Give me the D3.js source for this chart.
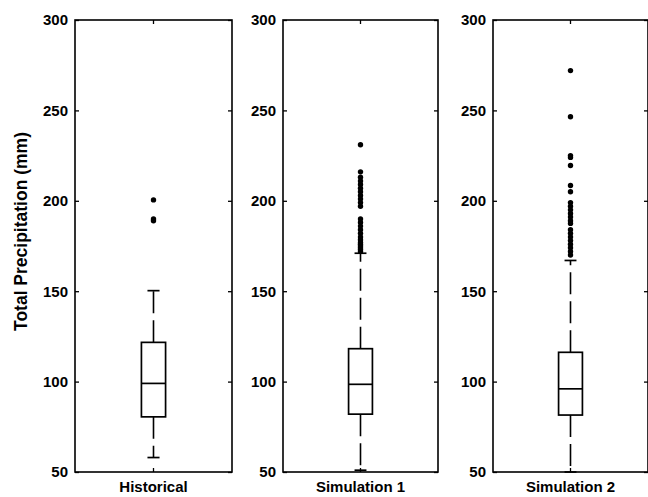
<!DOCTYPE html>
<html>
<head>
<meta charset="utf-8">
<script src="https://cdn.jsdelivr.net/npm/d3@7"></script>
<style>
  html, body { margin: 0; padding: 0; background: #fff; }
  svg { display: block; }
  text { font-family: "Liberation Sans", Arial, Helvetica, sans-serif; fill: #000; }
</style>
</head>
<body>
<svg id="chart" width="648" height="497"></svg>
<script>
// ---- Data ----
const categories = ["Historical", "Simulation 1", "Simulation 2"];
const q1Values = [80.5, 82, 81.5];
const medianValues = [99, 98.5, 96];
const q3Values = [121.7, 118.2, 116.2];
const whiskerLowValues = [58, 51, 50];
const whiskerHighValues = [150.3, 171, 167];
const historicalOutliers = [200.5, 190, 189];
const simulation1Outliers = [231, 216, 213, 211, 209, 207, 205, 203, 201, 199, 197, 190, 188, 186, 184, 182, 180, 178.5, 177, 176, 175, 174, 173, 172];
const simulation2Outliers = [272, 246.5, 225, 224, 219.5, 208.5, 205, 199, 197, 195, 193, 191, 189, 187.5, 184, 182, 180, 178, 176, 174, 172, 170];
const outlierLists = [historicalOutliers, simulation1Outliers, simulation2Outliers];
const yTickValues = [50, 100, 150, 200, 250, 300];
const yLabel = "Total Precipitation (mm)";

// ---- Layout ----
const svg = d3.select("#chart");
const plotTop = 20, plotBottom = 472;
const panels = [
  { left: 75, right: 232 },
  { left: 283, right: 438 },
  { left: 493, right: 648 }
];

const y = d3.scaleLinear().domain([50, 300]).range([plotBottom, plotTop]);

const fontSize = 15;

categories.forEach((cat, i) => {
  const p = panels[i];
  const x = d3.scaleBand().domain([cat]).range([p.left, p.right]).paddingOuter(2.75).paddingInner(0);
  const cx = x(cat) + x.bandwidth() / 2;
  const bw = x.bandwidth();
  const g = svg.append("g");

  // Frame
  g.append("rect")
    .attr("x", p.left).attr("y", plotTop)
    .attr("width", p.right - p.left).attr("height", plotBottom - plotTop)
    .attr("fill", "none").attr("stroke", "#000").attr("stroke-width", 1.6);

  // Left axis
  const la = g.append("g").attr("transform", `translate(${p.left},0)`)
    .call(d3.axisLeft(y).tickValues(yTickValues).tickSize(-4).tickPadding(7).tickFormat(d3.format("d")));
  la.select(".domain").remove();
  la.selectAll(".tick line").attr("stroke", "#000").attr("stroke-width", 1.3);
  la.selectAll("text").style("font-size", fontSize + "px").style("font-weight", "bold").attr("fill", "#000");

  // Right axis ticks (no labels)
  const ra = g.append("g").attr("transform", `translate(${p.right},0)`)
    .call(d3.axisRight(y).tickValues(yTickValues).tickSize(-4).tickFormat(""));
  ra.select(".domain").remove();
  ra.selectAll(".tick line").attr("stroke", "#000").attr("stroke-width", 1.3);

  // Bottom axis with category label
  const ba = g.append("g").attr("transform", `translate(0,${plotBottom})`)
    .call(d3.axisBottom(x).tickSize(-4).tickPadding(9));
  ba.select(".domain").remove();
  ba.selectAll(".tick line").attr("stroke", "#000").attr("stroke-width", 1.3);
  ba.selectAll("text").style("font-size", fontSize + "px").style("font-weight", "bold").attr("fill", "#000");

  // Top axis ticks
  const ta = g.append("g").attr("transform", `translate(0,${plotTop})`)
    .call(d3.axisTop(x).tickSize(-4).tickFormat(""));
  ta.select(".domain").remove();
  ta.selectAll(".tick line").attr("stroke", "#000").attr("stroke-width", 1.3);

  // Whiskers (dashed)
  const dash = "22,7";
  g.append("line")
    .attr("x1", cx).attr("x2", cx)
    .attr("y1", y(q3Values[i])).attr("y2", y(whiskerHighValues[i]))
    .attr("stroke", "#000").attr("stroke-width", 1.6).attr("stroke-dasharray", dash);
  g.append("line")
    .attr("x1", cx).attr("x2", cx)
    .attr("y1", y(q1Values[i])).attr("y2", y(whiskerLowValues[i]))
    .attr("stroke", "#000").attr("stroke-width", 1.6).attr("stroke-dasharray", dash);

  // Whisker caps
  [whiskerHighValues[i], whiskerLowValues[i]].forEach(v => {
    g.append("line")
      .attr("x1", cx - bw / 4).attr("x2", cx + bw / 4)
      .attr("y1", y(v)).attr("y2", y(v))
      .attr("stroke", "#000").attr("stroke-width", 1.7);
  });

  // Box
  g.append("rect")
    .attr("x", x(cat)).attr("width", bw)
    .attr("y", y(q3Values[i])).attr("height", y(q1Values[i]) - y(q3Values[i]))
    .attr("fill", "none").attr("stroke", "#000").attr("stroke-width", 1.7);

  // Median
  g.append("line")
    .attr("x1", x(cat)).attr("x2", x(cat) + bw)
    .attr("y1", y(medianValues[i])).attr("y2", y(medianValues[i]))
    .attr("stroke", "#000").attr("stroke-width", 1.7);

  // Outliers
  g.selectAll("circle.out").data(outlierLists[i]).enter().append("circle")
    .attr("class", "out")
    .attr("cx", cx).attr("cy", d => y(d)).attr("r", 2.7)
    .attr("fill", "#000");
});

// Y axis title
svg.append("text")
  .attr("transform", "translate(27,231.5) rotate(-90)")
  .attr("text-anchor", "middle")
  .style("font-size", "17.5px")
  .style("font-weight", "bold")
  .text(yLabel);
</script>
</body>
</html>
